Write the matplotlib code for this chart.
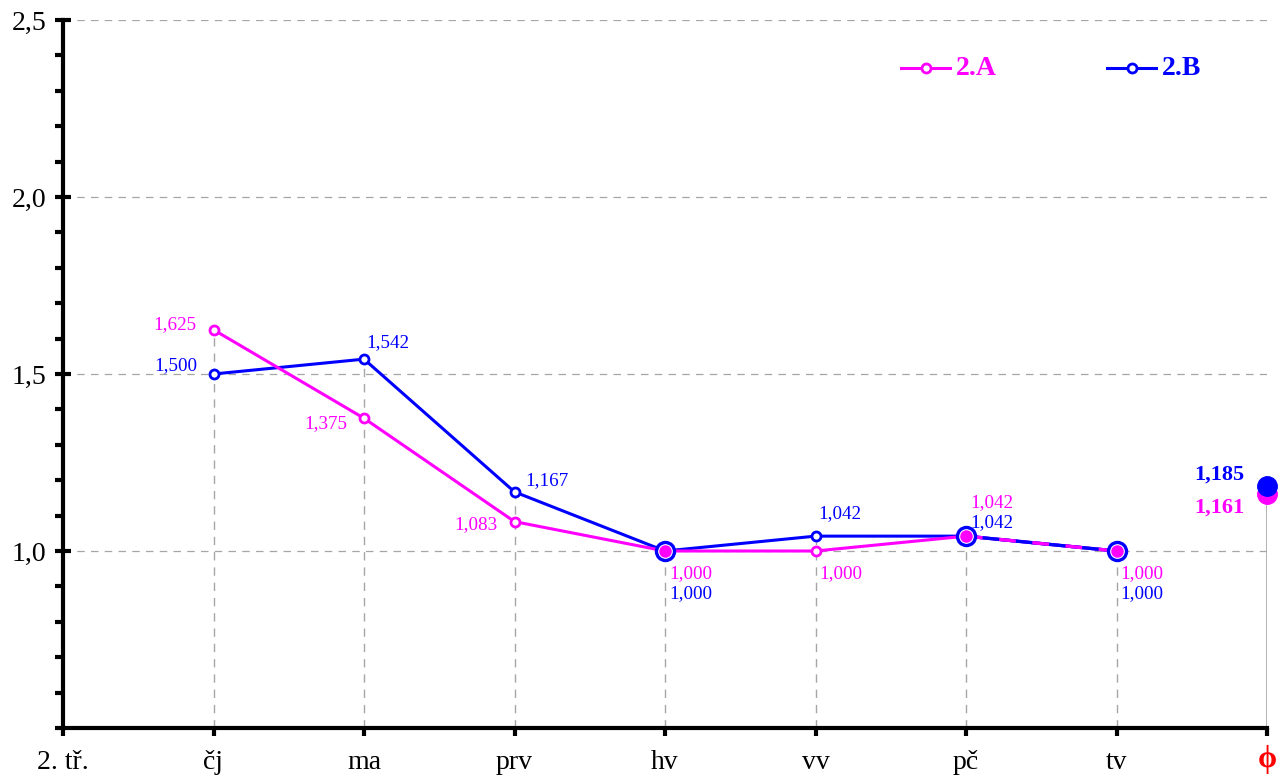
import numpy as np
import matplotlib.pyplot as plt
from matplotlib.ticker import MultipleLocator, FixedLocator

categories = ["2. tř.", "čj", "ma", "prv", "hv", "vv", "pč", "tv", "ϕ"]
subjects = ["čj", "ma", "prv", "hv", "vv", "pč", "tv"]
values_a = [1.625, 1.375, 1.083, 1.000, 1.000, 1.042, 1.000]
values_b = [1.500, 1.542, 1.167, 1.000, 1.042, 1.042, 1.000]
avg_a = 1.161
avg_b = 1.185
series_names = ["2.A", "2.B"]

MAG = "#ff00ff"
BLUE = "#0000ff"
GRID = "#a6a6a6"

plt.rcParams["font.family"] = ["Liberation Serif", "DejaVu Serif"]

fig = plt.figure(figsize=(12.83, 7.78), dpi=100)
ax = fig.add_axes([63 / 1283, 50 / 778, (1267 - 63) / 1283, (728 - 20) / 778])

x = np.arange(1, len(subjects) + 1)
xa = np.array(values_a)
xb = np.array(values_b)

ax.set_xlim(0, 8)
ax.set_ylim(0.5, 2.5)

# horizontal dashed grid
for yv in [1.0, 1.5, 2.0, 2.5]:
    ax.axhline(yv, color=GRID, lw=0.9, ls=(0, (6, 5)), zorder=1)

# vertical drop lines
for xi, a, b in zip(x, xa, xb):
    ax.plot([xi, xi], [0.5, max(a, b)], color=GRID, lw=1.0, ls=(0, (6, 5)), zorder=1)
ax.plot([8, 8], [0.5, avg_a], color=GRID, lw=1.2, zorder=1)

# lines
ax.plot(x, xb, color=BLUE, lw=2.2, zorder=3)
ax.plot(x, xa, color=MAG, lw=2.2, zorder=3)
# overlapping segment pč-tv drawn alternating
same = (xa == xb)
for i in range(len(x) - 1):
    if same[i] and same[i + 1]:
        ax.plot(x[i:i + 2], xb[i:i + 2], color=BLUE, lw=2.4, zorder=4)
        ax.plot(x[i:i + 2], xa[i:i + 2], color=MAG, lw=2.4, ls=(0, (5, 5)), zorder=4)

# markers
for xi, a, b in zip(x, xa, xb):
    if a == b:
        ax.plot(xi, b, "o", ms=13, mfc="white", mec=BLUE, mew=2.4, zorder=5)
        ax.plot(xi, a, "o", ms=8, mfc=MAG, mec=MAG, zorder=6)
    else:
        ax.plot(xi, b, "o", ms=6.5, mfc="white", mec=BLUE, mew=2.0, zorder=5)
        ax.plot(xi, a, "o", ms=6.5, mfc="white", mec=MAG, mew=2.0, zorder=5)

# averages
ax.plot(8, avg_a, "o", ms=14, color=MAG, zorder=6, clip_on=False)
ax.plot(8, avg_b, "o", ms=14, color=BLUE, zorder=7, clip_on=False)


def fmt(v):
    return f"{v:.3f}".replace(".", ",")


# data labels (offsets in points)
fs = 13.8
label_pos_a = [(-12, 4, "right"), (-12, -4, "right"), (-12, -2, "right"),
               (3, -16, "left"), (3, -16, "left"), (3, 24, "left"), (3, -16, "left")]
label_pos_b = [(-12, 6, "right"), (2, 12, "left"), (8, 8, "left"),
               (3, -31, "left"), (2, 16, "left"), (3, 10, "left"), (3, -31, "left")]
for xi, v, (dx, dy, ha) in zip(x, xa, label_pos_a):
    ax.annotate(fmt(v), (xi, v), xytext=(dx, dy), textcoords="offset points",
                ha=ha, va="center", color=MAG, fontsize=fs, zorder=8)
for xi, v, (dx, dy, ha) in zip(x, xb, label_pos_b):
    ax.annotate(fmt(v), (xi, v), xytext=(dx, dy), textcoords="offset points",
                ha=ha, va="center", color=BLUE, fontsize=fs, zorder=8)
ax.annotate(fmt(avg_b), (8, avg_b), xytext=(-16, 8), textcoords="offset points",
            ha="right", va="center", color=BLUE, fontsize=16, fontweight="bold")
ax.annotate(fmt(avg_a), (8, avg_a), xytext=(-16, -10), textcoords="offset points",
            ha="right", va="center", color=MAG, fontsize=16, fontweight="bold")

# legend (manual, placed in axes fraction)
for (x0, name, col) in [(0.696, series_names[0], MAG), (0.867, series_names[1], BLUE)]:
    ax.plot([x0, x0 + 0.041], [0.932, 0.932], color=col, lw=2.2,
            transform=ax.transAxes, clip_on=False)
    ax.plot(x0 + 0.0205, 0.932, "o", ms=6.5, mfc="white", mec=col, mew=2.0,
            transform=ax.transAxes, clip_on=False)
    ax.text(x0 + 0.046, 0.932, name, transform=ax.transAxes, color=col,
            fontsize=20, fontweight="bold", ha="left", va="center")

# spines
for s in ["top", "right"]:
    ax.spines[s].set_visible(False)
for s in ["left", "bottom"]:
    ax.spines[s].set_linewidth(3)
    ax.spines[s].set_color("black")

ax.yaxis.set_minor_locator(MultipleLocator(0.1))
ax.set_yticks([1.0, 1.5, 2.0, 2.5])
ax.set_yticklabels([fmt(v)[:3] for v in [1.0, 1.5, 2.0, 2.5]], fontsize=20)
ax.tick_params(axis="y", which="major", direction="inout", length=12, width=3, pad=6)
ax.tick_params(axis="y", which="minor", direction="out", length=6, width=3)

ax.xaxis.set_major_locator(FixedLocator(range(len(categories))))
ax.set_xticklabels(categories[:-1] + [""], fontsize=20)
ax.tick_params(axis="x", which="major", direction="out", length=6, width=3, pad=10)
# average symbol under the last tick
ax.annotate(categories[-1], (8, 0), xycoords=("data", "axes fraction"),
            xytext=(0, -23), textcoords="offset points", ha="center", va="center",
            color="red", fontsize=22, fontweight="bold", annotation_clip=False)

fig.savefig("out.png", dpi=100)
